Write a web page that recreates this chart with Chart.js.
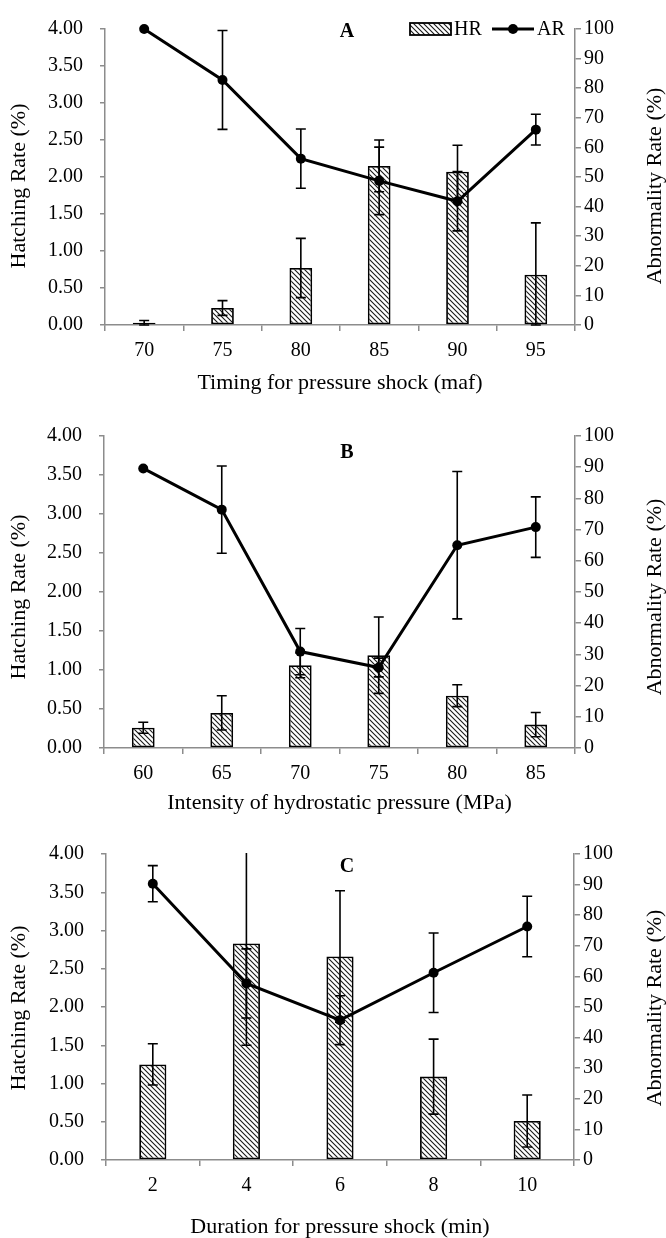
<!DOCTYPE html>
<html>
<head>
<meta charset="utf-8">
<script src="https://cdn.jsdelivr.net/npm/chart.js@4.4.0/dist/chart.umd.min.js"></script>
<style>
  body { margin: 0; background: #fff; }
  canvas { display: block; }
</style>
</head>
<body>
<canvas id="chartA" width="666" height="400"></canvas>
<canvas id="chartB" width="666" height="420"></canvas>
<canvas id="chartC" width="666" height="418"></canvas>
<script>
// Panel A - timing for pressure shock
const timingLabels = ['70', '75', '80', '85', '90', '95'];
const hrTiming = [0.03, 0.23, 0.77, 2.15, 2.07, 0.68];
const hrTimingErr = [0.03, 0.10, 0.40, 0.35, 0.36, 0.70];
const arTiming = [100, 82.8, 56.2, 48.7, 41.8, 66.0];
const arTimingErr = [0, 16.7, 10.0, 11.4, 10.0, 5.2];

// Panel B - intensity of hydrostatic pressure
const intensityLabels = ['60', '65', '70', '75', '80', '85'];
const hrIntensity = [0.26, 0.45, 1.06, 1.19, 0.67, 0.30];
const hrIntensityErr = [0.07, 0.22, 0.16, 0.49, 0.14, 0.155];
const arIntensity = [89.6, 76.4, 30.9, 25.8, 65.0, 70.8];
const arIntensityErr = [0, 14.0, 7.4, 3.0, 23.6, 9.7];

// Panel C - duration for pressure shock
const durationLabels = ['2', '4', '6', '8', '10'];
const hrDuration = [1.25, 2.83, 2.66, 1.09, 0.51];
const hrDurationErr = [0.27, 1.33, 0.86, 0.49, 0.34];
const arDuration = [90.3, 57.7, 45.7, 61.2, 76.3];
const arDurationErr = [5.9, 11.3, 8.0, 13.0, 9.9];

const hrTicks = [0, 4, 0.5];
const arTicks = [0, 100, 10];

const axisGray = '#8c8c8c';
const serif = '"Liberation Serif", "Times New Roman", serif';

Chart.defaults.font.family = serif;
Chart.defaults.font.size = 20;
Chart.defaults.color = '#000';

// diagonal hatch used for the HR bars
function makeHatch() {
    const c = document.createElement('canvas');
    c.width = 5;
    c.height = 5;
    const g = c.getContext('2d');
    g.fillStyle = '#fff';
    g.fillRect(0, 0, 5, 5);
    g.strokeStyle = '#1a1a1a';
    g.lineWidth = 1.1;
    g.beginPath();
    g.moveTo(-1, -1); g.lineTo(6, 6);
    g.moveTo(-1, 4); g.lineTo(1, 6);
    g.moveTo(4, -1); g.lineTo(6, 1);
    g.stroke();
    return g.createPattern(c, 'repeat');
}
const hatch = makeHatch();

// error bars, read from dataset.errors through the dataset's own y scale
const errorBars = {
    id: 'errorBars',
    afterDatasetsDraw(chart) {
        const ctx = chart.ctx;
        const area = chart.chartArea;
        ctx.save();
        ctx.beginPath();
        ctx.rect(area.left, area.top - 1, area.right - area.left, area.bottom - area.top + 3);
        ctx.clip();
        ctx.strokeStyle = '#000';
        ctx.lineWidth = 1.6;
        chart.data.datasets.forEach((ds, i) => {
            if (!ds.errors) return;
            const meta = chart.getDatasetMeta(i);
            const scale = chart.scales[ds.yAxisID];
            meta.data.forEach((el, j) => {
                const err = ds.errors[j];
                if (!err) return;
                const x = el.x;
                const yTop = scale.getPixelForValue(ds.data[j] + err);
                const yBot = scale.getPixelForValue(Math.max(ds.data[j] - err, 0));
                ctx.beginPath();
                ctx.moveTo(x, yTop); ctx.lineTo(x, yBot);
                ctx.moveTo(x - 5, yTop); ctx.lineTo(x + 5, yTop);
                ctx.moveTo(x - 5, yBot); ctx.lineTo(x + 5, yBot);
                ctx.stroke();
            });
        });
        ctx.restore();
    }
};

// panel letter, y-axis titles and the legend of panel A
const decor = {
    id: 'decor',
    afterDraw(chart, args, opts) {
        const ctx = chart.ctx;
        ctx.save();
        ctx.fillStyle = '#000';
        ctx.textAlign = 'center';
        ctx.textBaseline = 'middle';
        ctx.font = 'bold 20px ' + serif;
        ctx.fillText(opts.letter, opts.letterX, opts.letterY);

        ctx.font = '22px ' + serif;
        [[opts.leftTitle, 19], [opts.rightTitle, 655]].forEach(([text, x]) => {
            ctx.save();
            ctx.translate(x, opts.titleY);
            ctx.rotate(-Math.PI / 2);
            ctx.fillText(text, 0, 0);
            ctx.restore();
        });

        if (opts.legend) {
            const y = 29;
            ctx.fillStyle = hatch;
            ctx.fillRect(410, 23, 41, 12);
            ctx.strokeStyle = '#000';
            ctx.lineWidth = 1.8;
            ctx.strokeRect(410, 23, 41, 12);
            ctx.fillStyle = '#000';
            ctx.textAlign = 'left';
            ctx.font = '20px ' + serif;
            ctx.fillText('HR', 454, y + 1);
            ctx.lineWidth = 3;
            ctx.beginPath();
            ctx.moveTo(492, y); ctx.lineTo(534, y);
            ctx.stroke();
            ctx.beginPath();
            ctx.arc(513, y, 5, 0, Math.PI * 2);
            ctx.fill();
            ctx.fillText('AR', 537, y + 1);
        }
        ctx.restore();
    }
};

function makeChart(id, labels, hr, hrErr, ar, arErr, xTitle, p) {
    return new Chart(document.getElementById(id), {
        type: 'bar',
        data: {
            labels: labels,
            datasets: [{
                type: 'line',
                label: 'AR',
                data: ar,
                errors: arErr,
                yAxisID: 'y1',
                borderColor: '#000',
                backgroundColor: '#000',
                borderWidth: 3,
                pointRadius: 5,
                pointBackgroundColor: '#000',
                pointBorderWidth: 0,
                tension: 0,
                clip: false,
                order: 1
            }, {
                label: 'HR',
                data: hr,
                errors: hrErr,
                yAxisID: 'y',
                backgroundColor: hatch,
                borderColor: '#000',
                borderWidth: 1.8,
                borderSkipped: false,
                barPercentage: 0.29,
                categoryPercentage: 1,
                order: 2
            }]
        },
        options: {
            responsive: false,
            animation: false,
            devicePixelRatio: 1,
            layout: { padding: { top: p.padTop, left: 0, right: 0, bottom: 0 } },
            plugins: {
                legend: { display: false },
                tooltip: { enabled: false },
                decor: {
                    letter: p.letter, letterX: 347, letterY: p.letterY,
                    leftTitle: 'Hatching Rate (%)', rightTitle: 'Abnormality Rate (%)',
                    titleY: p.titleY, legend: p.legend
                }
            },
            scales: {
                x: {
                    afterFit: (s) => { s.height = p.xHeight; },
                    grid: { display: true, drawOnChartArea: false, tickLength: 6, color: axisGray, lineWidth: 1.5 },
                    border: { color: axisGray, width: 1.5 },
                    ticks: { padding: 8, font: { size: 20 } },
                    title: {
                        display: true, text: xTitle,
                        font: { size: 22, lineHeight: 1 },
                        padding: { top: 0, bottom: p.xTitlePad }
                    }
                },
                y: {
                    position: 'left',
                    min: hrTicks[0], max: hrTicks[1],
                    afterFit: (s) => { s.width = p.left; },
                    grid: { drawOnChartArea: false, tickLength: 5, color: axisGray, lineWidth: 1.5 },
                    border: { color: axisGray, width: 1.5 },
                    ticks: { stepSize: hrTicks[2], padding: 17, callback: (v) => v.toFixed(2) }
                },
                y1: {
                    position: 'right',
                    min: arTicks[0], max: arTicks[1],
                    afterFit: (s) => { s.width = p.rightWidth; },
                    grid: { drawOnChartArea: false, tickLength: 6, color: axisGray, lineWidth: 1.5 },
                    border: { color: axisGray, width: 1.5 },
                    ticks: { stepSize: arTicks[2], padding: 3 }
                }
            }
        },
        plugins: [errorBars, decor]
    });
}

makeChart('chartA', timingLabels, hrTiming, hrTimingErr, arTiming, arTimingErr,
    'Timing for pressure shock (maf)',
    { padTop: 18, left: 105, rightWidth: 91, xHeight: 75, xTitlePad: 6,
      letter: 'A', letterY: 32, titleY: 186, legend: true });

makeChart('chartB', intensityLabels, hrIntensity, hrIntensityErr, arIntensity, arIntensityErr,
    'Intensity of hydrostatic pressure (MPa)',
    { padTop: 36, left: 104, rightWidth: 91, xHeight: 72, xTitlePad: 6,
      letter: 'B', letterY: 53, titleY: 197, legend: false });

makeChart('chartC', durationLabels, hrDuration, hrDurationErr, arDuration, arDurationErr,
    'Duration for pressure shock (min)',
    { padTop: 34, left: 106, rightWidth: 92, xHeight: 78, xTitlePad: 0,
      letter: 'C', letterY: 47, titleY: 188, legend: false });
</script>
</body>
</html>
